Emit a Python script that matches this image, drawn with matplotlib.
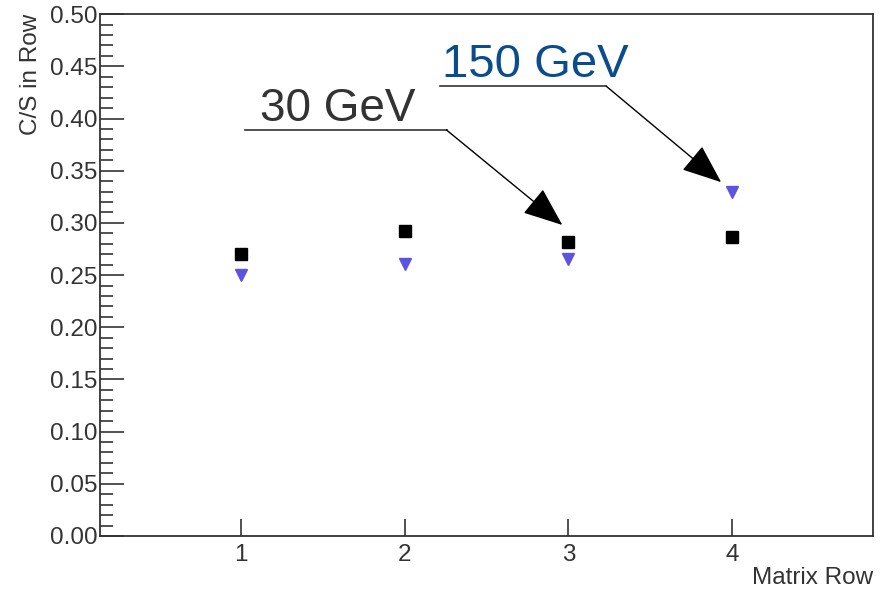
import matplotlib
matplotlib.use("Agg")
from matplotlib import pyplot as plt
from matplotlib.ticker import MultipleLocator

plt.rcParams['font.family'] = ['Liberation Sans', 'DejaVu Sans']

rows = [1, 2, 3, 4]
cs_30 = [0.270, 0.292, 0.282, 0.286]
cs_150 = [0.250, 0.2605, 0.2655, 0.3295]

fig = plt.figure(figsize=(8.8, 5.89), dpi=100)
ax = fig.add_axes([0.1136, 0.090, 0.8784, 0.886])

ax.plot(rows, cs_30, ls='none', marker='s', ms=8, color='black')
ax.plot(rows, cs_150, ls='none', marker='v', ms=9, color='#5c54e0', mec='#5c54e0')

ax.set_xlim(0.14, 4.86)
ax.set_ylim(0, 0.5)
ax.set_xticks(rows)
ax.yaxis.set_major_locator(MultipleLocator(0.05))
ax.yaxis.set_minor_locator(MultipleLocator(0.01))
ax.yaxis.set_major_formatter(plt.FormatStrFormatter('%.2f'))

ax.tick_params(axis='y', which='major', direction='in', length=17, width=1.2,
               labelsize=17.5, pad=2, color='#333333', labelcolor='#333333')
ax.tick_params(axis='y', which='minor', direction='in', length=9, width=1.2, color='#333333')
ax.tick_params(axis='x', which='major', direction='in', length=12, width=1.2,
               labelsize=17.5, pad=6, color='#333333', labelcolor='#333333')
for s in ax.spines.values():
    s.set_linewidth(1.3)
    s.set_color('#333333')

ax.set_ylabel("C/S in Row", fontsize=17.5, color='#333333')
ax.yaxis.set_label_coords(-0.075, 1.0)
ax.yaxis.label.set_ha('right')
ax.set_xlabel("Matrix Row", fontsize=17.5, color='#333333')
ax.xaxis.set_label_coords(1.0, -0.06)
ax.xaxis.label.set_ha('right')
ax.xaxis.label.set_va('top')

# annotations
arrow = dict(arrowstyle='-|>,head_length=1.25,head_width=0.5', color='black',
             lw=1.0, mutation_scale=20, shrinkA=0, shrinkB=0)

ax.text(1.116, 0.398, "30 GeV", fontsize=33, color='#333333', ha='left', va='baseline')
ax.plot([1.024, 2.256], [0.389, 0.389], color='#333333', lw=1.2)
ax.annotate("", xy=(2.963, 0.298), xytext=(2.256, 0.389), arrowprops=arrow)

ax.text(2.23, 0.440, "150 GeV", fontsize=34, color='#0b4c8c', ha='left', va='baseline')
ax.plot([2.219, 3.231], [0.431, 0.431], color='#333333', lw=1.2)
ax.annotate("", xy=(3.933, 0.339), xytext=(3.231, 0.431), arrowprops=arrow)

fig.savefig("out.png", dpi=100)
